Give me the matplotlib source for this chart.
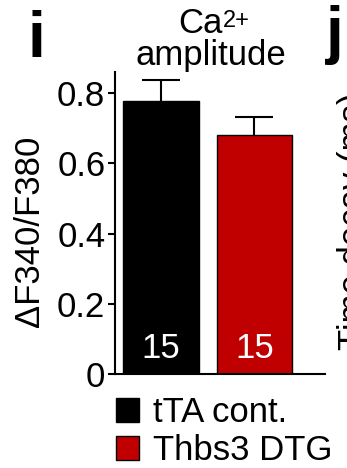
import numpy as np
import matplotlib
matplotlib.use("Agg")
import matplotlib.pyplot as plt
from matplotlib.patches import Patch

# ---------------- data ----------------
groups = ["tTA cont.", "Thbs3 DTG"]
means = [0.776, 0.681]
sems = [0.062, 0.051]
n_cells = [15, 15]
colors = ["#000000", "#C00000"]
yticks = [0, 0.2, 0.4, 0.6, 0.8]
ytick_labels = ["0", "0.2", "0.4", "0.6", "0.8"]

plt.rcParams["font.family"] = ["Liberation Sans", "DejaVu Sans"]

fig = plt.figure(figsize=(3.47, 4.68), dpi=100)
ax = fig.add_axes([0.3314, 0.2009, 0.6052, 0.6453])

x = np.arange(len(groups))
ax.bar(x, means, width=0.81, color=colors, edgecolor="black", linewidth=1.0)
# upper error bars only (line + cap)
ax.errorbar(x, means, yerr=[np.zeros(len(means)), sems], fmt="none",
            ecolor="black", elinewidth=1.5, capsize=0)
ax.plot(x, np.array(means) + np.array(sems), linestyle="none", marker="_",
        markersize=27, markeredgewidth=1.5, color="black")

for xi, n in zip(x, n_cells):
    ax.text(xi, 0.045, str(n), color="white", fontsize=25, ha="center", va="baseline")

ax.set_xlim(-0.49, 1.754)
ax.set_ylim(0, 0.86)
ax.set_yticks(yticks)
ax.set_yticklabels(ytick_labels, fontsize=25)
ax.set_xticks([])
ax.tick_params(axis="y", length=5, width=1.5, pad=2)
for s in ["top", "right"]:
    ax.spines[s].set_visible(False)
for s in ["left", "bottom"]:
    ax.spines[s].set_linewidth(1.5)

fig.text(30 / 347, 1 - 231 / 468, "ΔF340/F380", rotation=90, fontsize=25,
         ha="center", va="center")

# title
fig.text(223 / 347, 1 - 33 / 468, "Ca", fontsize=25, ha="right", va="baseline")
fig.text(223 / 347, 1 - 10 / 468, "2+", fontsize=17, ha="left", va="top")
fig.text(211 / 347, 1 - 65 / 468, "amplitude", fontsize=25,
         ha="center", va="baseline")

# panel letters
fig.text(28 / 347, 1 - 57 / 468, "i", fontsize=46, fontweight="bold",
         ha="left", va="baseline")
fig.text(326 / 347, 1 - 52 / 468, "j", fontsize=46, fontweight="bold",
         ha="left", va="baseline")
# neighbouring panel's axis label, clipped by the figure edge as in the source
fig.text(337 / 347, 1 - 221 / 468, "Time decay (ms)", rotation=90, fontsize=25,
         ha="left", va="center")

handles = [Patch(facecolor=c, edgecolor="black", linewidth=1.0) for c in colors]
fig.legend(handles, groups, loc="upper left", bbox_to_anchor=(116 / 347, 1 - 396 / 468),
           frameon=False, fontsize=25, handlelength=0.66, handleheight=0.7,
           handletextpad=0.4, labelspacing=0.15, borderpad=0, borderaxespad=0)

fig.savefig("out.png", dpi=100)
